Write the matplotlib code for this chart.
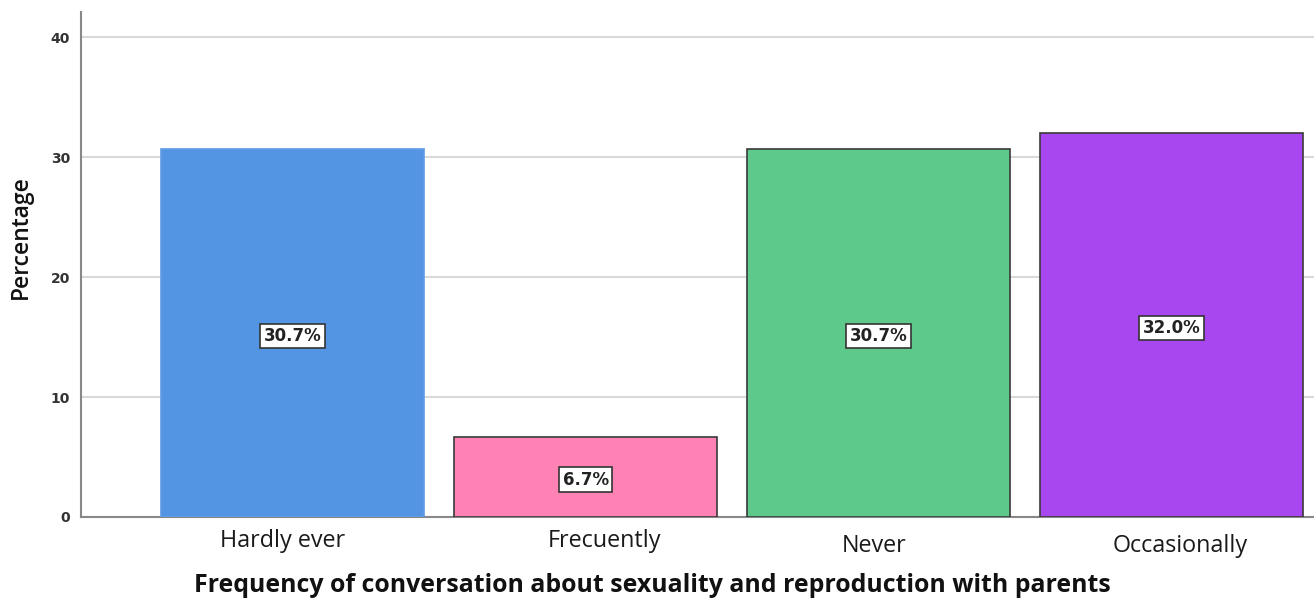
import matplotlib
matplotlib.use("Agg")
import matplotlib.pyplot as plt

categories = ["Hardly ever", "Frecuently", "Never", "Occasionally"]
percentages = [30.7, 6.7, 30.7, 32.0]
bar_colors = ["#5495e3", "#fe82b3", "#5dca8b", "#a847ef"]
edge_colors = ["#5f9be6", "#3a3a3a", "#3a3a3a", "#3a3a3a"]
y_ticks = [0, 10, 20, 30, 40]
x_label = "Frequency of conversation about sexuality and reproduction with parents"
y_label = "Percentage"

W, H = 1314, 599
fig = plt.figure(figsize=(W / 100, H / 100), dpi=100)
ax_left, ax_right, ax_bottom, ax_top = 81, 1314, 517, 12
ax = fig.add_axes([ax_left / W, 1 - ax_bottom / H,
                   (ax_right - ax_left) / W, (ax_bottom - ax_top) / H])

x = list(range(len(categories)))
bars = ax.bar(x, percentages, width=0.898, color=bar_colors,
              edgecolor=edge_colors, linewidth=1.2, zorder=3)

ax.set_xlim(-0.722, 3.486)
ax.set_ylim(0, 42.1)
ax.set_yticks(y_ticks)
ax.set_yticklabels([str(t) for t in y_ticks], fontsize=10, color="#333333",
                   fontweight="bold", family="DejaVu Sans")
ax.tick_params(axis="y", length=0, pad=8)
ax.tick_params(axis="x", length=0)
ax.yaxis.grid(True, color="#d9d9d9", linewidth=1.5, zorder=0)
ax.set_axisbelow(True)

for side in ("top", "right"):
    ax.spines[side].set_visible(False)
for side in ("left", "bottom"):
    ax.spines[side].set_color("#888888")
    ax.spines[side].set_linewidth(1.5)

# category labels sit slightly staggered under the bars
ax.set_xticks(x)
ax.set_xticklabels([])
label_dx = [-7.2, 13.7, -2.9, 6.5]
label_dy = [17.3, 17.3, 20.9, 20.9]
for xi, name, dx, dy in zip(x, categories, label_dx, label_dy):
    ax.annotate(name, xy=(xi, 0), xycoords=("data", "axes fraction"),
                xytext=(dx, -dy), textcoords="offset points",
                ha="center", va="center", fontsize=16.8, family="Open Sans",
                color="#1a1a1a")

for b, v in zip(bars, percentages):
    ax.text(b.get_x() + b.get_width() / 2, v / 2 - 0.25, f"{v:.1f}%",
            ha="center", va="center", fontsize=12, fontweight="bold",
            family="DejaVu Sans", color="#222222", zorder=5,
            bbox=dict(boxstyle="square,pad=0.2", facecolor="white",
                      edgecolor="#333333", linewidth=1.2))

fig.text(652 / W, 1 - 586 / H, x_label, ha="center", va="center",
         fontsize=17.9, fontweight="bold", family="Open Sans", color="#111111")
fig.text(21 / W, 1 - 237 / H, y_label, ha="center", va="center", rotation=90,
         fontsize=16.5, fontweight="semibold", family="Open Sans", color="#111111")

fig.savefig("out.png", dpi=100, facecolor="white")
